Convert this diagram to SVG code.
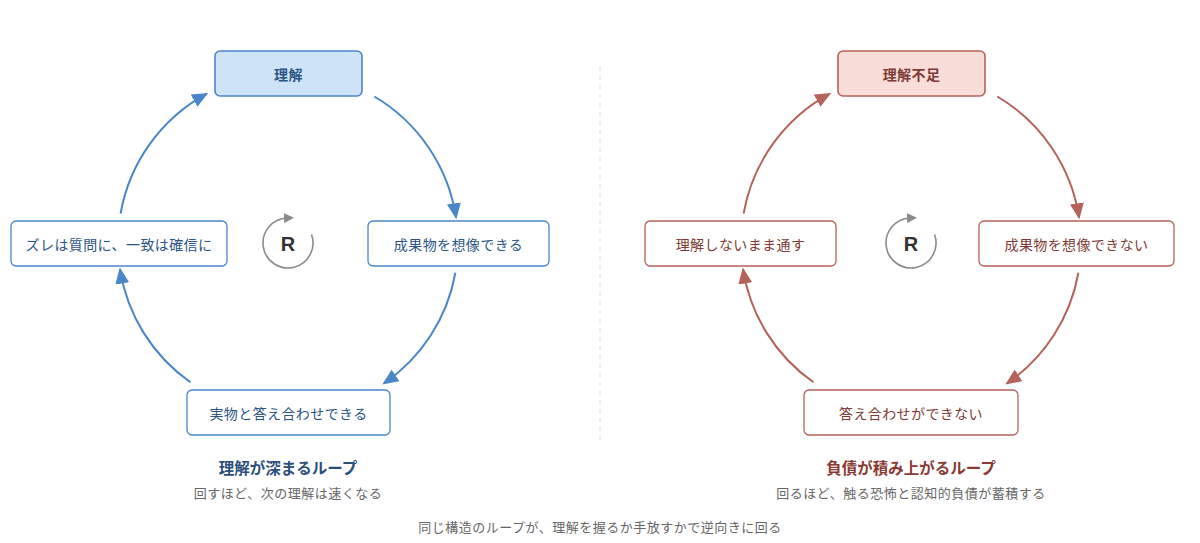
<svg xmlns="http://www.w3.org/2000/svg" width="1200" height="543" viewBox="0 0 1200 543">
<defs>
<style>
text{font-family:"Noto Sans CJK JP","Noto Sans",sans-serif;text-anchor:middle;dominant-baseline:central}
.nb{fill:#fff;stroke:#4a86c8;stroke-width:1.3}
.nbt{fill:#cfe3f6;stroke:#4a86c8;stroke-width:1.6}
.nr{fill:#fff;stroke:#b5625b;stroke-width:1.3}
.nrt{fill:#f8ddd8;stroke:#b5625b;stroke-width:1.6}
.tb{fill:#2b5585;font-size:14px;letter-spacing:0.4px}
.tr{fill:#7e3b35;font-size:14px;letter-spacing:0.4px}
.bold{font-weight:bold}
.ab{fill:none;stroke:#4a86c8;stroke-width:2;marker-end:url(#mb)}
.ar{fill:none;stroke:#b5625b;stroke-width:2;marker-end:url(#mr)}
.rc{fill:none;stroke:#8a8a8a;stroke-width:1.6;marker-end:url(#mg)}
.rt{fill:#333;font-size:20px;font-weight:bold;font-family:"Liberation Sans","Noto Sans",sans-serif}
.sub{fill:#666;font-size:13px;letter-spacing:0.5px}
</style>
<marker id="mb" viewBox="0 0 16 14" markerWidth="16" markerHeight="14" refX="14" refY="7" orient="auto" markerUnits="userSpaceOnUse"><path d="M0,0 L16,7 L0,14 z" fill="#4a86c8"/></marker>
<marker id="mr" viewBox="0 0 16 14" markerWidth="16" markerHeight="14" refX="14" refY="7" orient="auto" markerUnits="userSpaceOnUse"><path d="M0,0 L16,7 L0,14 z" fill="#b5625b"/></marker>
<marker id="mg" viewBox="0 0 10 10" markerWidth="10" markerHeight="10" refX="3" refY="5" orient="auto" markerUnits="userSpaceOnUse"><path d="M0,0 L10,5 L0,10 z" fill="#8a8a8a"/></marker>
</defs>
<rect width="1200" height="543" fill="#fff"/>
<line x1="600" y1="67" x2="600" y2="443" stroke="#dcdcdc" stroke-width="1" stroke-dasharray="4 5"/>
<g id="connectors">
<path class="ab" d="M374.3,96.5 A170,170 0 0 1 456,217.3"/>
<path class="ab" d="M455.4,272.8 A170,170 0 0 1 384,383.3"/>
<path class="ab" d="M190.5,382.3 A170,170 0 0 1 120.1,269.6"/>
<path class="ab" d="M120.6,213.5 A170,170 0 0 1 206.4,93.9"/>
<path class="ar" d="M997.3,96.5 A170,170 0 0 1 1079,217.3"/>
<path class="ar" d="M1078.4,272.8 A170,170 0 0 1 1007,383.3"/>
<path class="ar" d="M813.5,382.3 A170,170 0 0 1 743.1,269.6"/>
<path class="ar" d="M743.6,213.5 A170,170 0 0 1 829.4,93.9"/>
</g>
<g id="node-rikai"><rect class="nbt" x="215" y="51" width="147" height="45" rx="5"/><text class="tb bold" x="288.5" y="74">理解</text></g>
<g id="node-souzou"><rect class="nb" x="368" y="221" width="181" height="45" rx="5"/><text class="tb" x="458.5" y="243.5">成果物を想像できる</text></g>
<g id="node-kotaeawase"><rect class="nb" x="187" y="390" width="203" height="45" rx="5"/><text class="tb" x="288.5" y="412.5">実物と答え合わせできる</text></g>
<g id="node-zure"><rect class="nb" x="11" y="221" width="216" height="45" rx="5"/><text class="tb" x="119" y="243.5">ズレは質問に、一致は確信に</text></g>
<g id="loop-left-R"><path class="rc" d="M311.5,234.4 A25,25 0 1 1 287,218"/><text class="rt" x="288" y="244">R</text></g>
<g id="node-fusoku"><rect class="nrt" x="838" y="51" width="147" height="45" rx="5"/><text class="tr bold" x="911.5" y="74">理解不足</text></g>
<g id="node-souzou-nai"><rect class="nr" x="979" y="221" width="195" height="45" rx="5"/><text class="tr" x="1076.5" y="243.5">成果物を想像できない</text></g>
<g id="node-kotaeawase-nai"><rect class="nr" x="804" y="390" width="214" height="45" rx="5"/><text class="tr" x="911" y="412.5">答え合わせができない</text></g>
<g id="node-toosu"><rect class="nr" x="645" y="221" width="191" height="45" rx="5"/><text class="tr" x="740.5" y="243.5">理解しないまま通す</text></g>
<g id="loop-right-R"><path class="rc" d="M934.5,234.4 A25,25 0 1 1 910,218"/><text class="rt" x="911" y="244">R</text></g>
<g id="labels">
<text x="288" y="467" style="fill:#2a4f7a;font-size:15.5px;font-weight:bold">理解が深まるループ</text>
<text class="sub" x="288" y="492">回すほど、次の理解は速くなる</text>
<text x="911" y="467" style="fill:#8a3a33;font-size:15.5px;font-weight:bold">負債が積み上がるループ</text>
<text class="sub" x="911" y="492">回るほど、触る恐怖と認知的負債が蓄積する</text>
<text class="sub" x="600" y="526">同じ構造のループが、理解を握るか手放すかで逆向きに回る</text>
</g>
</svg>
